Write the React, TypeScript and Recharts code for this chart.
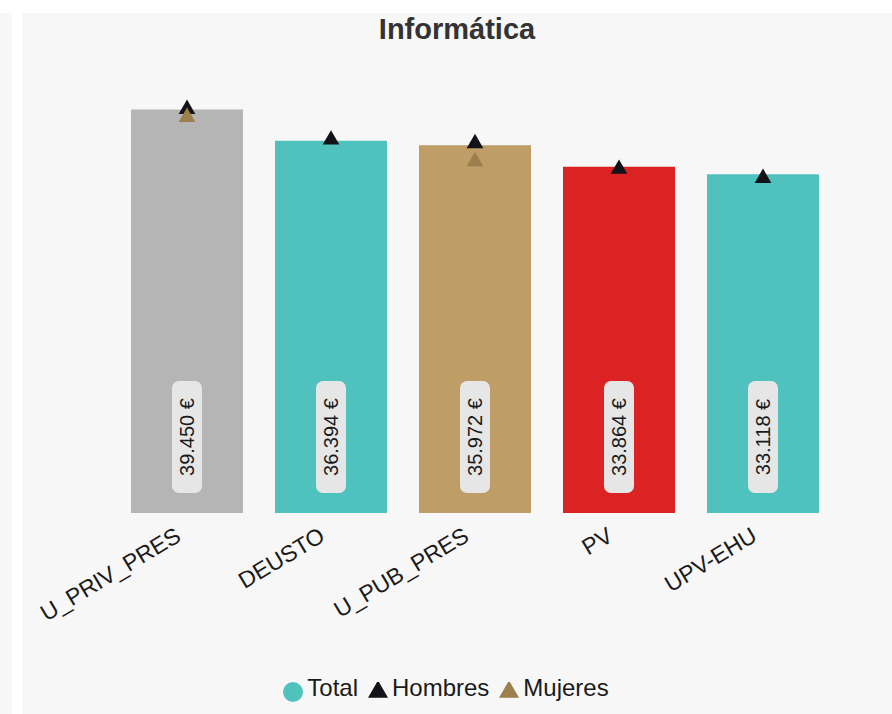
import React from 'react';
import {
  ComposedChart,
  Bar,
  Line,
  Cell,
  XAxis,
  YAxis,
  Legend,
  LabelList,
  Symbols,
} from 'recharts';

const universidades = ['U_PRIV_PRES', 'DEUSTO', 'U_PUB_PRES', 'PV', 'UPV-EHU'];
const total = [39450, 36394, 35972, 33864, 33118];
const hombres = [39490, 36500, 36140, 33640, 32740];
const mujeres: (number | null)[] = [38710, null, 34380, null, null];
const barColors = ['#b5b5b5', '#4fc2be', '#be9d66', '#dc2323', '#4fc2be'];
const legendOrder = ['Total', 'Hombres', 'Mujeres'];

const data = universidades.map((u, i) => ({
  name: u,
  total: total[i],
  hombres: hombres[i],
  mujeres: mujeres[i],
}));

const fmt = (v: number) =>
  String(Math.round(v)).replace(/\B(?=(\d{3})+(?!\d))/g, '.') + ' €';

const ValueLabel = (props: any) => {
  const { x, y, width, height, value } = props;
  const cx = x + width / 2;
  const bottom = y + height - 20;
  const cy = bottom - 56;
  return (
    <g>
      <rect x={cx - 15} y={bottom - 112} width={30} height={112} rx={7} fill="#e6e6e6" />
      <text
        x={cx}
        y={cy}
        transform={`rotate(-90 ${cx} ${cy})`}
        textAnchor="middle"
        dominantBaseline="central"
        fontSize={20}
        fill="#1a1a1a"
      >
        {fmt(value)}
      </text>
    </g>
  );
};

const triangle = (color: string) => (props: any) => {
  const { cx, cy, payload, dataKey } = props;
  if (payload[dataKey] == null) return <g key={props.index} />;
  return <Symbols key={props.index} cx={cx} cy={cy} type="triangle" size={120} fill={color} />;
};

export default function App() {
  return (
    <div style={{ position: 'absolute', left: 0, top: 0, width: 892, height: 714, background: '#fff', fontFamily: '"Liberation Sans", Arial, sans-serif' }}>
      <div style={{ position: 'absolute', left: 0, top: 13, width: 12, height: 701, background: '#f7f7f7' }} />
      <div style={{ position: 'absolute', left: 22, top: 13, width: 870, height: 701, background: '#f7f7f7' }}>
        <div style={{ position: 'absolute', left: 0, top: 0, width: 870, textAlign: 'center', fontSize: 29, fontWeight: 'bold', color: '#333' }}>
          Informática
        </div>
        <ComposedChart
          width={870}
          height={701}
          data={data}
          margin={{ top: 91, right: 57, left: 93, bottom: 12 }}
        >
          <XAxis
            dataKey="name"
            axisLine={false}
            tickLine={false}
            interval={0}
            height={161}
            angle={-31}
            dx={-13}
            dy={5}
            textAnchor="end"
            tick={{ fontSize: 23, fill: '#1a1a1a' }}
          />
          <YAxis hide domain={[0, 40000]} />
          <Legend
            verticalAlign="bottom"
            iconSize={20}
            wrapperStyle={{ left: 0, width: 858 }}
            itemSorter={(item: any) => legendOrder.indexOf(item.value)}
            formatter={(v: string) => <span style={{ color: '#1a1a1a', fontSize: 24 }}>{v}</span>}
          />
          <Bar dataKey="total" name="Total" fill="#4fc2be" barSize={112} legendType="circle" isAnimationActive={false}>
            {barColors.map((c, i) => (
              <Cell key={i} fill={c} />
            ))}
            <LabelList dataKey="total" content={ValueLabel} />
          </Bar>
          <Line
            dataKey="hombres"
            name="Hombres"
            stroke="#111318"
            strokeWidth={0}
            legendType="triangle"
            dot={triangle('#111318')}
            activeDot={false}
            isAnimationActive={false}
          />
          <Line
            dataKey="mujeres"
            name="Mujeres"
            stroke="#9c7f4c"
            strokeWidth={0}
            legendType="triangle"
            dot={triangle('#9c7f4c')}
            activeDot={false}
            isAnimationActive={false}
          />
        </ComposedChart>
      </div>
    </div>
  );
}
